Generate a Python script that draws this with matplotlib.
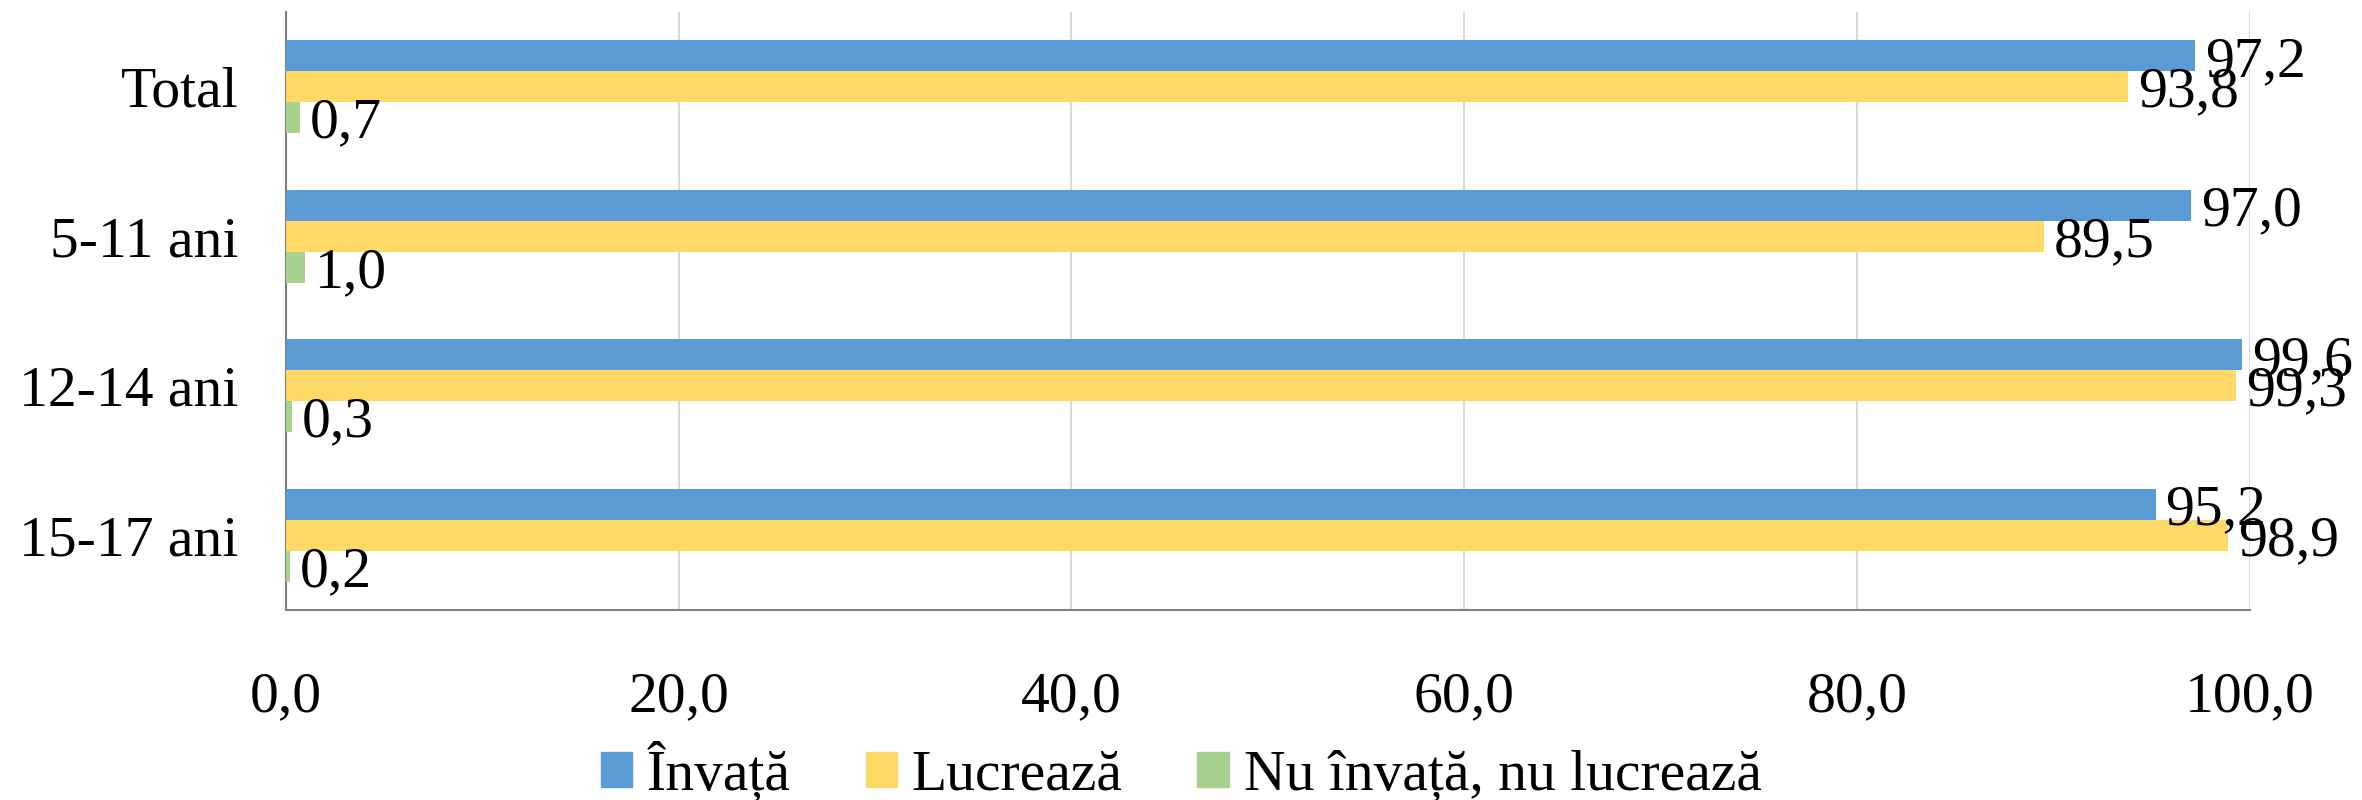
import numpy as np
import matplotlib
matplotlib.use("Agg")
import matplotlib.pyplot as plt
from matplotlib.ticker import FuncFormatter
from matplotlib.patches import Patch

plt.rcParams['font.family'] = ['Liberation Serif', 'DejaVu Serif']

# date
categorii = ["Total", "5-11 ani", "12-14 ani", "15-17 ani"]
invata = [97.2, 97.0, 99.6, 95.2]
lucreaza = [93.8, 89.5, 99.3, 98.9]
nimic = [0.7, 1.0, 0.3, 0.2]
serii = ["Învață", "Lucrează", "Nu învață, nu lucrează"]
culori = ["#5B9BD5", "#FFD966", "#A9D18E"]

fs = 41.5
fig = plt.figure(figsize=(23.62, 8), dpi=100)
ax = fig.add_axes([0.121, 0.2375, 0.8316, 0.7475])

y = np.arange(len(categorii))
h = 0.207
for k, (vals, col) in enumerate(zip([invata, lucreaza, nimic], culori)):
    pos = y + (k - 1) * h
    ax.barh(pos, vals, height=h, color=col, zorder=3)
    for p, v in zip(pos, vals):
        ax.annotate(f"{v:.1f}".replace(".", ","), (v, p), xytext=(7, 0),
                    textcoords="offset points", va="center_baseline", ha="left",
                    fontsize=fs, zorder=4)

ax.set_xlim(0, 100)
ax.set_ylim(3.5, -0.5)
ax.set_xticks([0, 20, 40, 60, 80, 100])
ax.xaxis.set_major_formatter(FuncFormatter(lambda v, p: f"{v:.1f}".replace(".", ",")))
ax.set_yticks(y)
ax.set_yticklabels(categorii)
ax.tick_params(axis="both", length=0, labelsize=fs)
ax.tick_params(axis="y", pad=34)
ax.tick_params(axis="x", pad=44)
ax.grid(axis="x", color="#D9D9D9", linewidth=1.5, zorder=0)
for s in ["top", "right"]:
    ax.spines[s].set_visible(False)
for s in ["left", "bottom"]:
    ax.spines[s].set_color("#808080")
    ax.spines[s].set_linewidth(1.5)

handles = [Patch(color=c) for c in culori]
fig.legend(handles, serii, loc="center", bbox_to_anchor=(0.5, 0.036), ncol=3,
           frameon=False, fontsize=fs, handlelength=0.55, handleheight=0.55,
           handletextpad=0.25, columnspacing=1.3, borderaxespad=0)

fig.savefig("out.png", dpi=100)
